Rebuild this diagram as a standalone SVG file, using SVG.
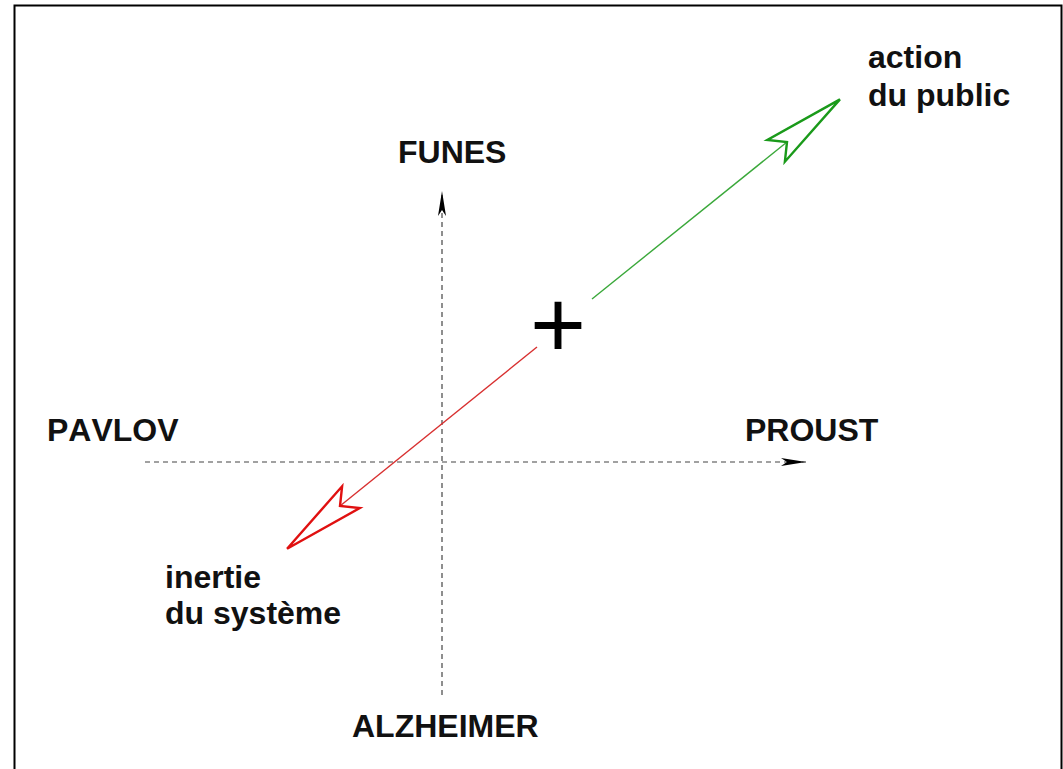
<svg xmlns="http://www.w3.org/2000/svg" width="1063" height="769" viewBox="0 0 1063 769">
<style>
.lbl{font-family:"Liberation Sans",Arial,Helvetica,sans-serif;font-weight:bold;font-size:32px;font-kerning:none;fill:#111}
.axis{stroke:#444;stroke-width:1.2;stroke-dasharray:5 4;fill:none}
.plus{font-family:"Liberation Sans",Arial,sans-serif;font-size:96px;fill:#000}
</style>
<defs>
<marker id="axhead" markerUnits="userSpaceOnUse" viewBox="-26 -6 28 12" refX="0" refY="0" markerWidth="28" markerHeight="12" orient="auto">
<path d="M0,0 L-25,-4 L-19,0 L-25,4 Z" fill="#000"/>
</marker>
<marker id="greenhead" markerUnits="userSpaceOnUse" viewBox="-18 -18 90 36" refX="0" refY="0" markerWidth="90" markerHeight="36" orient="auto">
<path d="M68,0 L-14,-14 L0,0 L-14,14 Z" fill="#fff" stroke="#1a9a1a" stroke-width="2.4" stroke-linejoin="miter"/>
</marker>
<marker id="redhead" markerUnits="userSpaceOnUse" viewBox="-18 -18 90 36" refX="0" refY="0" markerWidth="90" markerHeight="36" orient="auto">
<path d="M68,0 L-14,-14 L0,0 L-14,14 Z" fill="#fff" stroke="#e01010" stroke-width="2.4" stroke-linejoin="miter"/>
</marker>
</defs>
<rect x="14.5" y="5.5" width="1047" height="800" fill="#fff" stroke="#000" stroke-width="2"/>
<g id="connectors">
<line class="axis" x1="442" y1="695" x2="442" y2="191" marker-end="url(#axhead)"/>
<line class="axis" x1="145" y1="462" x2="806" y2="462" marker-end="url(#axhead)"/>
<line x1="592" y1="299" x2="787" y2="142" stroke="#3aa83a" stroke-width="1.4" marker-end="url(#greenhead)"/>
<line x1="537" y1="347" x2="340" y2="506" stroke="#d83030" stroke-width="1.4" marker-end="url(#redhead)"/>
</g>
<g id="node-center"><text class="plus" x="558" y="358" text-anchor="middle">+</text></g>
<g id="node-funes"><text class="lbl" x="398" y="163">FUNES</text></g>
<g id="node-pavlov"><text class="lbl" x="47" y="441">PAVLOV</text></g>
<g id="node-proust"><text class="lbl" x="745" y="441">PROUST</text></g>
<g id="node-alzheimer"><text class="lbl" x="352" y="737">ALZHEIMER</text></g>
<g id="node-action"><text class="lbl" x="868" y="68">action</text><text class="lbl" x="868" y="106">du public</text></g>
<g id="node-inertie"><text class="lbl" x="165" y="588">inertie</text><text class="lbl" x="165" y="624">du système</text></g>
</svg>
